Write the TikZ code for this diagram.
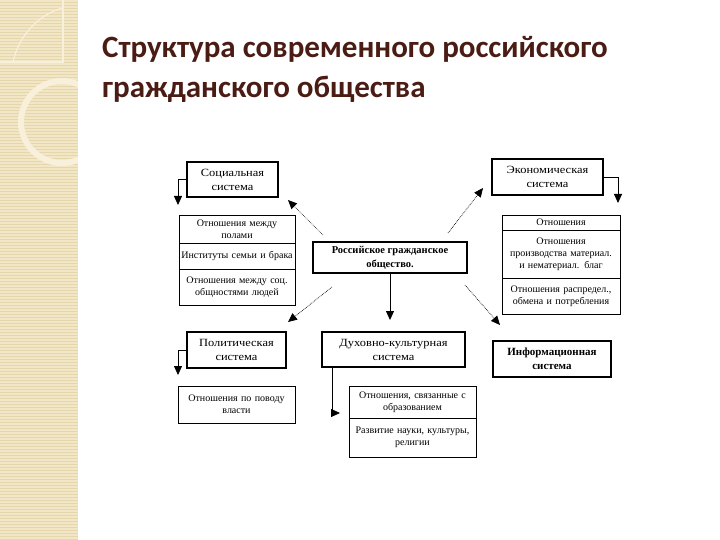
\documentclass[tikz,border=0pt]{standalone}
\usepackage{fontspec}
\setmainfont{Liberation Serif}
\newfontfamily\wideserif[FakeStretch=1.13]{Liberation Serif}
\newfontfamily\titlefont{Carlito}
\usetikzlibrary{calc,arrows.meta}
\definecolor{titlebrown}{HTML}{4A1C14}
\definecolor{strip}{HTML}{F1E6C6}
\definecolor{stripline}{HTML}{E6D6AC}
\definecolor{deco}{HTML}{F8F0DA}
\tikzset{
  x=1pt,y=-1pt,
  mainbox/.style={draw,line width=2.2pt,align=center,inner sep=1pt,font=\wideserif\fontsize{11}{14}\selectfont},
  boldbox/.style={mainbox,font=\bfseries\fontsize{10.5}{14}\selectfont},
  cell/.style={draw,line width=0.7pt,align=center,inner sep=1pt,font=\fontsize{10}{12}\selectfont},
  solidarrow/.style={line width=0.8pt,-{Triangle[length=9pt,width=8pt]}},
  dotarrow/.style={line width=0.7pt,densely dotted,-{Triangle[length=9pt,width=8pt]}},
  titletext/.style={anchor=west,inner sep=0,text=titlebrown,font=\titlefont\bfseries\fontsize{31}{34}\selectfont},
}
\begin{document}
\begin{tikzpicture}
\useasboundingbox (0,0) rectangle (720,540);
% left decorative strip
\fill[strip] (0,0) rectangle (78,540);
\foreach \yy in {2,5,...,540} {\draw[stripline,line width=0.5pt] (0,\yy) -- (78,\yy);}
\draw[deco,line width=1.2pt] (0,62) -- (63,62) -- (63,0);
\draw[deco,line width=1.2pt] (13,62) .. controls (20,30) and (45,12) .. (63,8);
\begin{scope}
\clip (0,0) rectangle (78,540);
\draw[deco,line width=6pt] (62,122) circle[radius=41];
\end{scope}
% title
\node[titletext] (t1) at (102,49) {Структура современного российского};
\node[titletext] (t2) at (102,89) {гражданского общества};
% main boxes
\node[mainbox,minimum width=91pt,minimum height=35pt] (soc) at (232.5,179.5) {Социальная\\система};
\node[mainbox,minimum width=111pt,minimum height=36pt] (eco) at (547.5,177) {Экономическая\\система};
\node[boldbox,minimum width=154pt,minimum height=31pt] (cen) at (390,257.5) {Российское гражданское\\общество.};
\node[mainbox,minimum width=99pt,minimum height=36pt] (pol) at (236.5,350) {Политическая\\система};
\node[mainbox,minimum width=143pt,minimum height=35pt] (spi) at (393.5,349.5) {Духовно-культурная\\система};
\node[boldbox,minimum width=118pt,minimum height=36pt,font=\bfseries\fontsize{11}{14}\selectfont] (inf) at (552,359) {Информационная\\система};
% social list
\node[cell,minimum width=116pt,minimum height=28pt,text width=114pt] (s1) at (237,229) {Отношения между\\полами};
\node[cell,minimum width=116pt,minimum height=26pt,text width=114pt] (s2) at (237,256) {Институты семьи и брака};
\node[cell,minimum width=116pt,minimum height=36pt,text width=114pt] (s3) at (237,287) {Отношения между соц.\\общностями людей};
% economic list
\node[cell,minimum width=118pt,minimum height=15pt,text width=116pt] (e1) at (561,222.5) {Отношения};
\node[cell,minimum width=118pt,minimum height=48pt,text width=116pt] (e2) at (561,254) {Отношения\\производства материал.\\и нематериал. благ};
\node[cell,minimum width=118pt,minimum height=36pt,text width=116pt] (e3) at (561,296) {Отношения распредел.,\\обмена и потребления};
% political list
\node[cell,minimum width=117pt,minimum height=37pt,text width=115pt] (p1) at (236.5,404.5) {Отношения по поводу\\власти};
% spiritual list
\node[cell,minimum width=127pt,minimum height=32pt,text width=125pt] (d1) at (412.5,402) {Отношения, связанные с\\образованием};
\node[cell,minimum width=127pt,minimum height=39pt,text width=125pt] (d2) at (412.5,437.5) {Развитие науки, культуры,\\религии};
% free ends
\coordinate (socend) at (178,205);
\coordinate (ecoend) at (618,203);
\coordinate (polend) at (178,375);
\coordinate (spiend) at (340,413);
\coordinate (cenend) at (390,320);
\coordinate (c1s) at (323,235); \coordinate (c1e) at (288,200);
\coordinate (c2s) at (448,233); \coordinate (c2e) at (483,188);
\coordinate (c3s) at (332,287); \coordinate (c3e) at (288,322);
\coordinate (c4s) at (465,285); \coordinate (c4e) at (500,325);
% connectors
\draw[solidarrow] (soc.west) -| (socend);
\draw[solidarrow] (eco.east) -| (ecoend);
\draw[solidarrow] (pol.west) -| (polend);
\draw[solidarrow] (spi.south west -| 332,0) |- (spiend);
\draw[solidarrow] (cen.south) -- (cenend);
\draw[dotarrow] (c1s) -- (c1e);
\draw[dotarrow] (c2s) -- (c2e);
\draw[dotarrow] (c3s) -- (c3e);
\draw[dotarrow] (c4s) -- (c4e);
\end{tikzpicture}
\end{document}
